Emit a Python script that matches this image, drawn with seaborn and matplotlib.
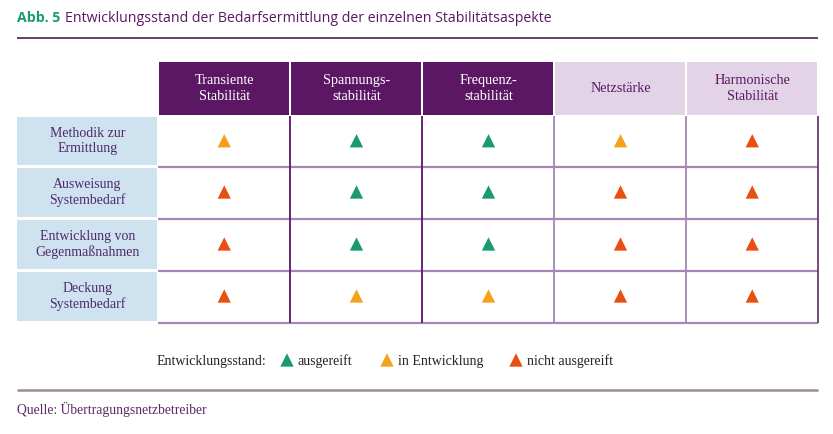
import matplotlib
matplotlib.use("Agg")
import matplotlib.pyplot as plt
import seaborn as sns
import pandas as pd
from matplotlib.patches import Rectangle

# ---------------- data ----------------
columns = ["Transiente\nStabilität", "Spannungs-\nstabilität", "Frequenz-\nstabilität",
           "Netzstärke", "Harmonische\nStabilität"]
column_dark = [True, True, True, False, False]
rows = ["Methodik zur\nErmittlung", "Ausweisung\nSystembedarf",
        "Entwicklung von\nGegenmaßnahmen", "Deckung\nSystembedarf"]
status_levels = ["ausgereift", "in Entwicklung", "nicht ausgereift"]
status_colors = ["#1a9a72", "#f5a11c", "#ea4f12"]
status = [
    ["in Entwicklung", "ausgereift", "ausgereift", "in Entwicklung", "nicht ausgereift"],
    ["nicht ausgereift", "ausgereift", "ausgereift", "nicht ausgereift", "nicht ausgereift"],
    ["nicht ausgereift", "ausgereift", "ausgereift", "nicht ausgereift", "nicht ausgereift"],
    ["nicht ausgereift", "in Entwicklung", "in Entwicklung", "nicht ausgereift", "nicht ausgereift"],
]
title_prefix = "Abb. 5"
title_text = "Entwicklungsstand der Bedarfsermittlung der einzelnen Stabilitätsaspekte"
legend_title = "Entwicklungsstand:"
source_text = "Quelle: Übertragungsnetzbetreiber"

# ---------------- layout (pixel space) ----------------
W, H = 833, 434
col_edges = [158, 290.5, 422.5, 554.5, 686.5, 818]
row_edges = [116, 166.5, 218.5, 270.5, 322.5]
head_top, head_bot = 62, 115
label_left = 17

DARK = "#5b1763"
LIGHT_HEAD = "#e2d3e6"
ROW_BG = "#cfe2ef"
GRID = "#a586b6"
TEXT_PURPLE = "#4e2a6a"

sns.set_theme(style="white")
serif = ["Liberation Serif", "DejaVu Serif"]
sans = ["Open Sans", "DejaVu Sans"]

fig = plt.figure(figsize=(W / 100, H / 100), dpi=100)
ax = fig.add_axes([0, 0, 1, 1])
ax.set_xlim(0, W)
ax.set_ylim(H, 0)
ax.axis("off")

col_centers = [(col_edges[i] + col_edges[i + 1]) / 2 for i in range(len(columns))]
row_centers = [(row_edges[i] + row_edges[i + 1]) / 2 - 0.5 for i in range(len(rows))]

# title
t1 = ax.text(label_left, 18, title_prefix, fontsize=10.2, fontweight="bold",
             color="#1a9a72", family=sans, va="center", ha="left")
fig.canvas.draw()
bb = t1.get_window_extent()
x_after = bb.x1 + 5
ax.text(x_after, 18, title_text, fontsize=10.2, color=DARK, family=sans,
        va="center", ha="left")
ax.plot([label_left, 818], [38, 38], color="#4a2050", lw=1.2, solid_capstyle="butt")

# header cells
for i, (name, dark) in enumerate(zip(columns, column_dark)):
    x0, x1 = col_edges[i] + 1, col_edges[i + 1] - 1
    ax.add_patch(Rectangle((x0, head_top), x1 - x0, head_bot - head_top,
                           facecolor=DARK if dark else LIGHT_HEAD, edgecolor="none"))
    ax.text(col_centers[i], (head_top + head_bot) / 2, name, ha="center", va="center",
            fontsize=10.3, family=serif, color="white" if dark else DARK, linespacing=1.22)

# row label cells
for j, name in enumerate(rows):
    y0, y1 = row_edges[j] + 1, row_edges[j + 1] - 1.5
    ax.add_patch(Rectangle((label_left, y0), col_edges[0] - 1 - label_left, y1 - y0,
                           facecolor=ROW_BG, edgecolor="none"))
    ax.text((label_left + col_edges[0]) / 2, (y0 + y1) / 2, name, ha="center", va="center",
            fontsize=10, family=serif, color=TEXT_PURPLE, linespacing=1.25)

# grid lines
for y in row_edges[1:]:
    ax.plot([col_edges[0], col_edges[-1]], [y, y], color=GRID, lw=1.6, solid_capstyle="butt")
for i, x in enumerate(col_edges[1:], start=1):
    if i == len(columns):
        c = "#6a3a70"
    elif column_dark[i - 1] and column_dark[i]:
        c = DARK
    else:
        c = GRID
    ax.plot([x, x], [row_edges[0], row_edges[-1]], color=c, lw=1.3, solid_capstyle="butt")

# triangles via seaborn
recs = []
for j in range(len(rows)):
    for i in range(len(columns)):
        recs.append({"x": col_centers[i], "y": row_centers[j], "status": status[j][i]})
df = pd.DataFrame(recs)
sns.scatterplot(data=df, x="x", y="y", hue="status", hue_order=status_levels,
                palette=status_colors, marker="^", s=92, linewidth=0, ax=ax, legend=False)

# legend (manual)
ly = 361
ax.text(157, ly, legend_title, fontsize=10, family=serif, color="#222222",
        va="center", ha="left")
leg_x = [287, 387, 516]
ldf = pd.DataFrame({"x": leg_x, "y": [ly - 1] * 3, "status": status_levels})
sns.scatterplot(data=ldf, x="x", y="y", hue="status", hue_order=status_levels,
                palette=status_colors, marker="^", s=92, linewidth=0, ax=ax, legend=False)
for x, lab in zip(leg_x, status_levels):
    ax.text(x + 11, ly, lab, fontsize=10, family=serif, color="#222222",
            va="center", ha="left")

ax.plot([label_left, 818], [390, 390], color="#9a8a9c", lw=1.8, solid_capstyle="butt")
ax.text(label_left, 409, source_text, fontsize=9.8, family=serif, color="#5a2a62",
        va="center", ha="left")

ax.set_xlim(0, W)
ax.set_ylim(H, 0)
ax.set_xlabel("")
ax.set_ylabel("")
fig.savefig("out.png", dpi=100)
